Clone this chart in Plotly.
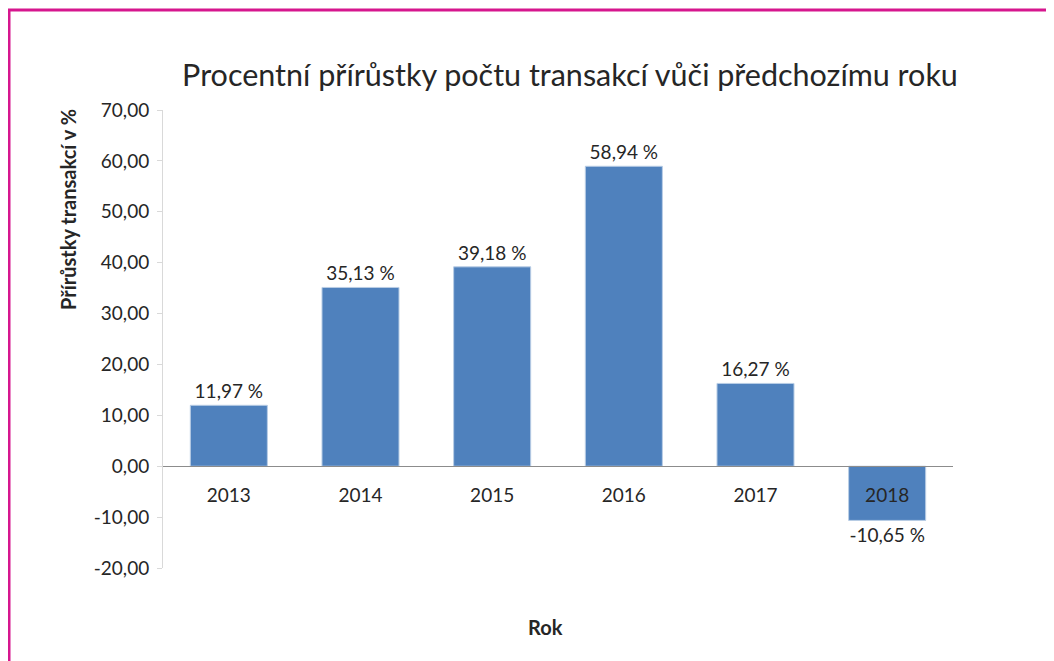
"""
Procentní přírůstky počtu transakcí - sloupcový graf
"""

import plotly.graph_objects as go

# data
years = ['2013', '2014', '2015', '2016', '2017', '2018']
growth_pct = [11.97, 35.13, 39.18, 58.94, 16.27, -10.65]

y_range = [-20, 70]
y_ticks = [-20, -10, 0, 10, 20, 30, 40, 50, 60, 70]
# czech number format with a plain hyphen for negatives
y_ticktext = [f'{v:.2f}'.replace('.', ',') for v in y_ticks]

BAR_COLOR = '#4F81BD'
TEXT_COLOR = '#262626'
BORDER_COLOR = '#D6168E'
FONT = 'Lato'

# page body has an 8px margin, so the figure is a bit smaller than the window
OFF = 8
W, H = 1054 - OFF, 661 - OFF
L, R, T, B = 163 - OFF, 101, 110 - OFF, 93
plot_w = W - L - R
plot_h = H - T - B


def px_x(x):
    # screen pixel -> paper x
    return (x - OFF - L) / plot_w


def px_y(y):
    # screen pixel -> paper y
    return (H - B - (y - OFF)) / plot_h


fig = go.Figure(go.Bar(
    x=years,
    y=growth_pct,
    marker=dict(color=BAR_COLOR, line=dict(color='#B9CDE5', width=1)),
    texttemplate='%{y:.2f} %',
    textposition='outside',
    textfont=dict(family=FONT, size=19, color=TEXT_COLOR),
    cliponaxis=False,
))

# x axis sits on the zero line
zero_pos = (0 - y_range[0]) / (y_range[1] - y_range[0])

fig.update_layout(
    width=W,
    height=H,
    margin=dict(l=L, r=R, t=T, b=B),
    plot_bgcolor='white',
    paper_bgcolor='white',
    separators=', ',
    showlegend=False,
    bargap=0.415,
    font=dict(family=FONT, color=TEXT_COLOR),
    title=dict(
        text='Procentní přírůstky počtu transakcí vůči předchozímu roku',
        font=dict(family=FONT, size=30.5, color=TEXT_COLOR),
        x=(570 - OFF) / W, xref='container', xanchor='center',
        y=1 - (75 - OFF) / H, yref='container', yanchor='middle',
    ),
    xaxis=dict(
        anchor='free',
        position=zero_pos,
        showline=True,
        linecolor='#8C8C8C',
        linewidth=1,
        ticks='',
        showgrid=False,
        zeroline=False,
        ticklabelstandoff=12,
        tickfont=dict(family=FONT, size=19, color=TEXT_COLOR),
    ),
    yaxis=dict(
        range=y_range,
        tickvals=y_ticks,
        ticktext=y_ticktext,
        showline=True,
        linecolor='#D9D9D9',
        linewidth=1,
        ticks='outside',
        ticklen=5,
        tickcolor='#D9D9D9',
        showgrid=False,
        zeroline=False,
        ticklabelstandoff=4,
        tickfont=dict(family=FONT, size=19, color=TEXT_COLOR),
    ),
)

# axis titles
fig.add_annotation(
    text='<b>Přírůstky transakcí v %</b>',
    xref='paper', yref='paper', x=px_x(68), y=px_y(210),
    xanchor='center', yanchor='middle',
    textangle=-90, showarrow=False,
    font=dict(family=FONT, size=20, color=TEXT_COLOR),
)
fig.add_annotation(
    text='<b>Rok</b>',
    xref='paper', yref='paper', x=px_x(545), y=px_y(627),
    xanchor='center', yanchor='middle',
    showarrow=False,
    font=dict(family=FONT, size=20, color=TEXT_COLOR),
)

# magenta frame (left and top)
fig.add_shape(type='line', xref='paper', yref='paper',
              x0=px_x(9), x1=px_x(9), y0=px_y(10), y1=px_y(670),
              line=dict(color=BORDER_COLOR, width=3))
fig.add_shape(type='line', xref='paper', yref='paper',
              x0=px_x(8), x1=px_x(1060), y0=px_y(10), y1=px_y(10),
              line=dict(color=BORDER_COLOR, width=3))

fig.write_html("out.html")
